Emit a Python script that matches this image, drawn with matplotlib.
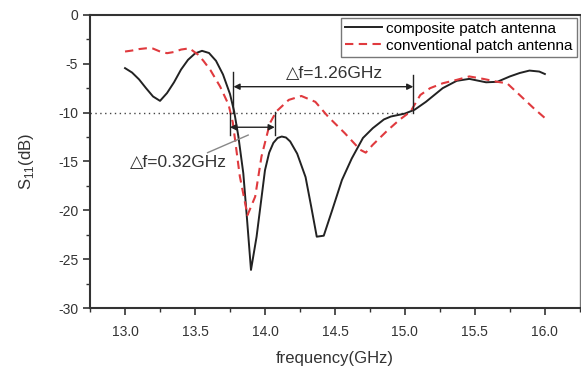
import numpy as np
import matplotlib
matplotlib.use('Agg')
import matplotlib.pyplot as plt
from matplotlib.ticker import MultipleLocator, FormatStrFormatter

plt.rcParams['font.family'] = ['Liberation Sans', 'DejaVu Sans']
plt.rcParams['mathtext.fontset'] = 'custom'
plt.rcParams['mathtext.rm'] = 'Liberation Sans'
plt.rcParams['axes.unicode_minus'] = False

# composite patch antenna (solid black)
freq_comp = [13.00, 13.05, 13.10, 13.15, 13.20, 13.25, 13.30, 13.35, 13.40, 13.45,
             13.50, 13.55, 13.60, 13.65, 13.70, 13.75, 13.78, 13.81, 13.845, 13.87,
             13.90, 13.94, 14.00, 14.03, 14.06, 14.09, 14.12, 14.15, 14.18, 14.23,
             14.29, 14.33, 14.37, 14.42, 14.48, 14.55, 14.62, 14.70, 14.77, 14.85,
             14.90, 15.00, 15.07, 15.15, 15.27, 15.37, 15.46, 15.58, 15.66, 15.75,
             15.82, 15.89, 15.96, 16.00]
s11_comp = [-5.45, -5.9, -6.6, -7.5, -8.35, -8.8, -8.0, -6.9, -5.6, -4.6,
            -3.95, -3.68, -3.9, -4.7, -6.1, -8.1, -9.9, -12.45, -16.2, -20.6,
            -26.1, -22.7, -15.9, -14.1, -13.1, -12.6, -12.45, -12.55, -12.95, -14.2,
            -16.6, -19.6, -22.7, -22.6, -20.0, -16.9, -14.7, -12.6, -11.6, -10.7,
            -10.4, -10.1, -9.7, -8.9, -7.5, -6.75, -6.55, -6.9, -6.85, -6.3,
            -5.95, -5.7, -5.8, -6.05]

# conventional patch antenna (dashed red)
freq_conv = [13.00, 13.05, 13.10, 13.15, 13.20, 13.25, 13.30, 13.35, 13.40, 13.46,
             13.52, 13.56, 13.61, 13.68, 13.74, 13.77, 13.82, 13.875, 13.93, 13.975,
             14.035, 14.08, 14.17, 14.26, 14.36, 14.45, 14.57, 14.68, 14.72, 14.77,
             14.87, 14.96, 15.04, 15.11, 15.18, 15.27, 15.37, 15.46, 15.56, 15.66,
             15.73, 15.82, 15.92, 16.00]
s11_conv = [-3.75, -3.65, -3.5, -3.42, -3.45, -3.75, -3.92, -3.8, -3.55, -3.42,
            -4.05, -4.7, -5.65, -7.35, -9.2, -11.0, -16.5, -20.5, -18.6, -14.5,
            -11.1, -9.9, -8.7, -8.3, -8.9, -10.4, -12.1, -13.8, -14.1, -13.3,
            -11.9, -10.75, -9.9, -8.2, -7.5, -7.0, -6.65, -6.3, -6.55, -6.85,
            -7.0, -8.2, -9.55, -10.55]

# bandwidth markers
bw_wide = (13.775, 15.06)
bw_narrow = (13.75, 14.07)

fig = plt.figure(figsize=(5.81, 3.72), dpi=100)
ax = fig.add_axes([0.155, 0.172, 0.843, 0.788])

ax.plot([12.75, 15.04], [-10, -10], color='#444444', lw=1.0, ls=(0, (1, 2.5)))
ax.plot(freq_comp, s11_comp, color='#222222', lw=1.4, label='composite patch antenna')
ax.plot(freq_conv, s11_conv, color='#e03a3e', lw=1.5, ls=(0, (4, 2.6)),
        label='conventional patch antenna')

# wide band arrow
ax.plot([bw_wide[0]] * 2, [-5.85, -10], color='#222222', lw=1)
ax.plot([bw_wide[1]] * 2, [-6.15, -10], color='#222222', lw=1)
ax.annotate('', xy=(bw_wide[0], -7.35), xytext=(bw_wide[1], -7.35),
            arrowprops=dict(arrowstyle='<|-|>', color='#222222', lw=1,
                            mutation_scale=9, shrinkA=0, shrinkB=0))
ax.text(14.5, -6.75, '\u25b3f=1.26GHz', ha='center', va='bottom', fontsize=12.5,
        color='#333333')

# narrow band arrow
ax.plot([bw_narrow[0]] * 2, [-10, -12.3], color='#222222', lw=1)
ax.plot([bw_narrow[1]] * 2, [-9.9, -12.3], color='#222222', lw=1)
ax.annotate('', xy=(bw_narrow[0], -11.5), xytext=(bw_narrow[1], -11.5),
            arrowprops=dict(arrowstyle='<|-|>', color='#222222', lw=1,
                            mutation_scale=9, shrinkA=0, shrinkB=0))
ax.plot([13.59, 13.88], [-14.1, -12.3], color='#888888', lw=1)
ax.text(13.38, -15.15, '\u25b3f=0.32GHz', ha='center', va='center', fontsize=12.5,
        color='#333333')

ax.set_xlim(12.75, 16.25)
ax.set_ylim(-30, 0)
ax.xaxis.set_major_locator(MultipleLocator(0.5))
ax.xaxis.set_minor_locator(MultipleLocator(0.25))
ax.yaxis.set_major_locator(MultipleLocator(5))
ax.yaxis.set_minor_locator(MultipleLocator(2.5))
ax.xaxis.set_major_formatter(FormatStrFormatter('%.1f'))
ax.tick_params(which='both', direction='out', labelsize=10, colors='#333333')
ax.tick_params(which='major', length=5, width=1.2)
ax.tick_params(which='minor', length=3, width=1)
ax.tick_params(axis='x', which='major', pad=7)

for side in ['left', 'bottom', 'top']:
    ax.spines[side].set_linewidth(1.5)
    ax.spines[side].set_color('#333333')
ax.spines['right'].set_linewidth(1)
ax.spines['right'].set_color('#777777')

ax.set_xlabel('frequency(GHz)', fontsize=12, color='#333333', labelpad=9)
ax.set_ylabel('S$_{11}$(dB)', fontsize=12, color='#333333', labelpad=16)

leg = ax.legend(loc='upper right', fontsize=11, handlelength=2.4, handletextpad=0.3,
                borderaxespad=0.2, borderpad=0.25, labelspacing=0.2, fancybox=False,
                framealpha=1, edgecolor='#777777')
leg.get_frame().set_linewidth(1)

fig.savefig('out.png', dpi=100)
